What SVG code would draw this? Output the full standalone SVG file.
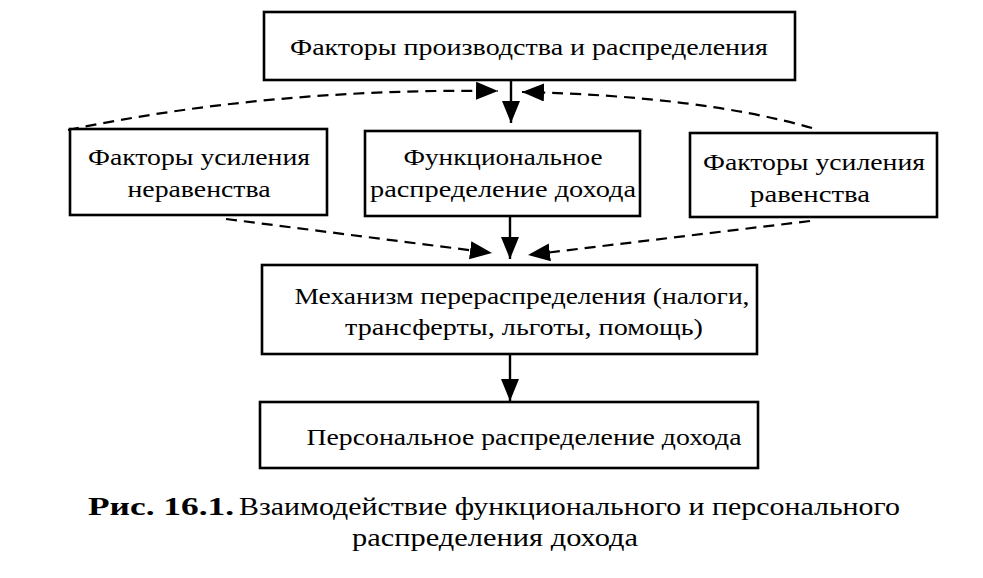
<svg xmlns="http://www.w3.org/2000/svg" width="983" height="578" viewBox="0 0 983 578">
<defs>
<marker id="ah" markerUnits="userSpaceOnUse" markerWidth="24" markerHeight="20" refX="22" refY="9" orient="auto">
<path d="M0,0 L22,9 L0,18 Z" fill="#000"/>
</marker>
<style>
.box{fill:#fff;stroke:#000;stroke-width:2.6}
.t{font-size:24px;fill:#000;text-anchor:middle}
.solid{stroke:#000;stroke-width:2.4;fill:none}
.dash{stroke:#000;stroke-width:2.2;fill:none;stroke-dasharray:11,7}
.cap{font-size:26px;fill:#000}
</style>
</defs>
<rect width="983" height="578" fill="#fff"/>
<g id="connectors">
<line class="solid" x1="511" y1="81" x2="511" y2="123" marker-end="url(#ah)"/>
<path class="dash" d="M68,130 Q270,88 498,91" marker-end="url(#ah)"/>
<path class="dash" d="M812,128 Q700,96 522,92" marker-end="url(#ah)"/>
<line class="solid" x1="510" y1="217" x2="510" y2="259" marker-end="url(#ah)"/>
<path class="dash" d="M226,219 L492,253" marker-end="url(#ah)"/>
<path class="dash" d="M810,221 L528,255" marker-end="url(#ah)"/>
<line class="solid" x1="510" y1="355" x2="510" y2="401" marker-end="url(#ah)"/>
</g>
<g font-family="Liberation Serif, Tinos, Times New Roman, serif">
<g id="n-top">
<rect class="box" x="264" y="12" width="531" height="68"/>
<text class="t" x="529" y="55" textLength="478" lengthAdjust="spacingAndGlyphs">Факторы производства и распределения</text>
</g>
<g id="n-left">
<rect class="box" x="70" y="129" width="257" height="86"/>
<text class="t" x="199" y="165" textLength="222" lengthAdjust="spacingAndGlyphs">Факторы усиления</text>
<text class="t" x="199" y="197" textLength="143" lengthAdjust="spacingAndGlyphs">неравенства</text>
</g>
<g id="n-mid">
<rect class="box" x="365" y="131" width="275" height="85"/>
<text class="t" x="503" y="165" textLength="199" lengthAdjust="spacingAndGlyphs">Функциональное</text>
<text class="t" x="503" y="197" textLength="266" lengthAdjust="spacingAndGlyphs">распределение дохода</text>
</g>
<g id="n-right">
<rect class="box" x="690" y="133" width="247" height="84"/>
<text class="t" x="814" y="170" textLength="222" lengthAdjust="spacingAndGlyphs">Факторы усиления</text>
<text class="t" x="810" y="202" textLength="120" lengthAdjust="spacingAndGlyphs">равенства</text>
</g>
<g id="n-mech">
<rect class="box" x="262" y="265" width="495" height="89"/>
<text class="t" x="522" y="304" textLength="455" lengthAdjust="spacingAndGlyphs">Механизм перераспределения (налоги,</text>
<text class="t" x="524" y="335" textLength="358" lengthAdjust="spacingAndGlyphs">трансферты, льготы, помощь)</text>
</g>
<g id="n-pers">
<rect class="box" x="260" y="402" width="498" height="66"/>
<text class="t" x="524" y="445" textLength="435" lengthAdjust="spacingAndGlyphs">Персональное распределение дохода</text>
</g>
<g id="caption">
<text class="cap" x="88" y="515" font-weight="bold" textLength="146" lengthAdjust="spacingAndGlyphs">Рис. 16.1.</text>
<text class="cap" x="239" y="515" textLength="661" lengthAdjust="spacingAndGlyphs">Взаимодействие функционального и персонального</text>
<text class="cap" x="352" y="546" textLength="286" lengthAdjust="spacingAndGlyphs">распределения дохода</text>
</g>
</g>
</svg>
